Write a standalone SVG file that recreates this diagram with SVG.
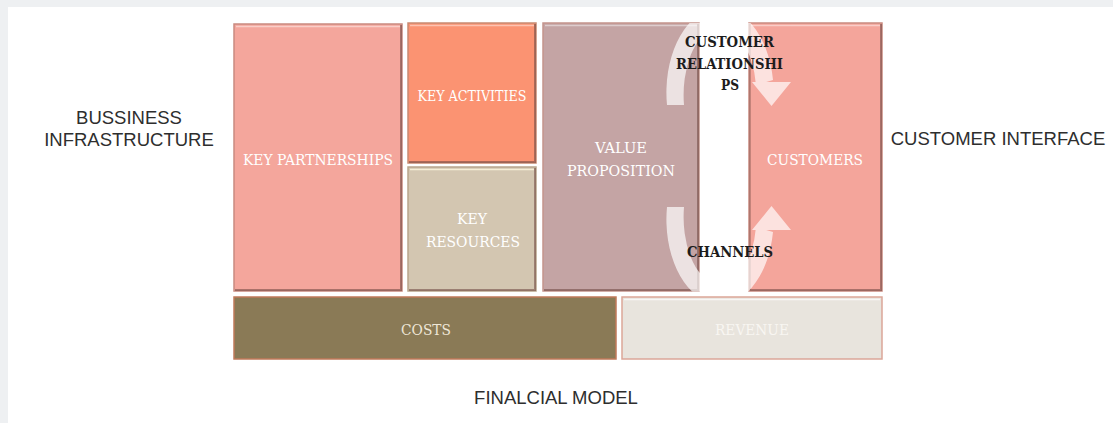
<svg xmlns="http://www.w3.org/2000/svg" width="1113" height="423" viewBox="0 0 1113 423">
  <style>
    .box { stroke-width: 1.5; }
    .shade { fill: none; stroke: #6e4640; stroke-width: 2; stroke-opacity: 0.55; }
    .shine { fill: none; stroke: #ffffff; stroke-width: 1.5; stroke-opacity: 0.45; }
    .in { font-family: "DejaVu Serif", "Liberation Serif", serif; font-stretch: condensed; font-size: 15px; fill: #ffffff; text-anchor: middle; }
    .dark { font-family: "DejaVu Serif", "Liberation Serif", serif; font-stretch: condensed; font-size: 15px; font-weight: bold; fill: #1c1c1c; text-anchor: middle; }
    .side { font-family: "Liberation Sans", Arial, sans-serif; font-size: 18.5px; fill: #2e2e2e; text-anchor: middle; }
    .flow { fill: #ffffff; opacity: 0.68; }
  </style>

  <defs>
    <clipPath id="canvas-clip">
      <rect x="540" y="23" width="345" height="268.5"/>
    </clipPath>
  </defs>

  <!-- page backdrop -->
  <rect x="0" y="0" width="1113" height="423" fill="#eef0f2"/>
  <rect x="8" y="7" width="1105" height="416" fill="#ffffff"/>

  <!-- section captions -->
  <g id="label-infrastructure">
    <text class="side" x="129" y="124">BUSSINESS</text>
    <text class="side" x="129" y="146">INFRASTRUCTURE</text>
  </g>
  <g id="label-interface">
    <text class="side" x="998" y="145">CUSTOMER INTERFACE</text>
  </g>
  <g id="label-financial">
    <text class="side" x="556" y="404">FINALCIAL MODEL</text>
  </g>

  <!-- canvas blocks -->
  <g id="key-partnerships">
    <rect class="box" x="234" y="24" width="168" height="267" fill="#f4a69c" stroke="#c98a80"/>
    <path class="shade" d="M401 25 V290 H235"/>
    <path class="shine" d="M236 26.5 H400"/>
    <text class="in" x="318" y="165" textLength="150" lengthAdjust="spacingAndGlyphs">KEY PARTNERSHIPS</text>
  </g>

  <g id="key-activities">
    <rect class="box" x="408" y="23" width="128" height="140" fill="#fb9372" stroke="#c98a72"/>
    <path class="shade" d="M535 24 V162 H409"/>
    <path class="shine" d="M410 25.5 H534"/>
    <text class="in" x="472" y="101" textLength="109" lengthAdjust="spacingAndGlyphs">KEY ACTIVITIES</text>
  </g>

  <g id="key-resources">
    <rect class="box" x="408" y="167" width="128" height="124" fill="#d3c6b1" stroke="#b8a58c"/>
    <path class="shade" d="M535 168 V290 H409"/>
    <path class="shine" d="M410 169.5 H534" style="stroke:#fff8e0;stroke-opacity:0.8"/>
    <text class="in" x="472" y="224" textLength="30" lengthAdjust="spacingAndGlyphs">KEY</text>
    <text class="in" x="473" y="247" textLength="94" lengthAdjust="spacingAndGlyphs">RESOURCES</text>
  </g>

  <g id="value-proposition">
    <rect class="box" x="543" y="23" width="156" height="268" fill="#c4a4a4" stroke="#c4948c"/>
    <path class="shade" d="M698 24 V290 H544"/>
    <path class="shine" d="M545 25.5 H697"/>
    <text class="in" x="621" y="153" textLength="52" lengthAdjust="spacingAndGlyphs">VALUE</text>
    <text class="in" x="621" y="176" textLength="108" lengthAdjust="spacingAndGlyphs">PROPOSITION</text>
  </g>

  <g id="customers">
    <rect class="box" x="749" y="23" width="133" height="268" fill="#f4a59b" stroke="#c98a80"/>
    <path class="shade" d="M881 24 V290 H750"/>
    <path class="shade" d="M750 24 V290" style="stroke-opacity:0.35"/>
    <path class="shine" d="M751 25.5 H880"/>
    <text class="in" x="815" y="165" textLength="96" lengthAdjust="spacingAndGlyphs">CUSTOMERS</text>
  </g>

  <g id="costs">
    <rect class="box" x="234" y="297" width="382" height="62" fill="#8a7a56" stroke="#c07a5a"/>
    <text class="in" x="426" y="335" textLength="50" lengthAdjust="spacingAndGlyphs" style="fill:#eee6d6">COSTS</text>
  </g>

  <g id="revenue">
    <rect class="box" x="622" y="297" width="260" height="62" fill="#e8e4dd" stroke="#dba698"/>
    <path class="shine" d="M624 299.5 H880" style="stroke-opacity:0.7"/>
    <text class="in" x="752" y="335" textLength="74" lengthAdjust="spacingAndGlyphs" style="fill:#f8f6f2">REVENUE</text>
  </g>

  <!-- relationship and channel flows between value proposition and customers -->
  <g id="connectors" clip-path="url(#canvas-clip)">
    <g class="flow">
      <!-- customer relationships: up from value proposition, down into customers -->
      <path d="M667 105 A53 83.5 0 0 1 773 80 L756 85 A36 66.5 0 0 0 684 105 Z"/>
      <polygon points="752,82 791,82 771.5,106"/>
      <!-- channels: down from value proposition, up into customers -->
      <path d="M667 207 A53 83.5 0 0 0 773 232 L756 227 A36 66.5 0 0 1 684 207 Z"/>
      <polygon points="752,230 791,230 771.5,206"/>
    </g>
  </g>

  <g id="customer-relationships">
    <text class="dark" x="729.5" y="47" textLength="89" lengthAdjust="spacingAndGlyphs">CUSTOMER</text>
    <text class="dark" x="729.5" y="69" textLength="107" lengthAdjust="spacingAndGlyphs">RELATIONSHI</text>
    <text class="dark" x="730" y="90" textLength="18" lengthAdjust="spacingAndGlyphs">PS</text>
  </g>
  <g id="channels">
    <text class="dark" x="730" y="257" textLength="86" lengthAdjust="spacingAndGlyphs">CHANNELS</text>
  </g>
</svg>
